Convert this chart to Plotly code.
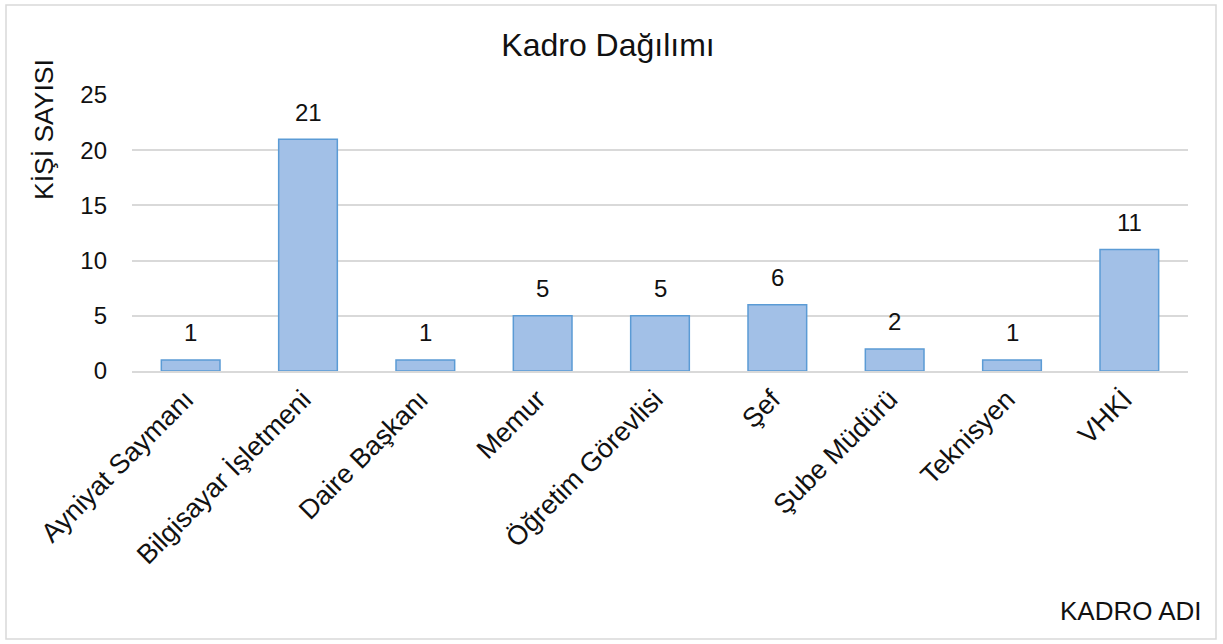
import plotly.graph_objects as go

categories = ["Ayniyat Saymanı", "Bilgisayar İşletmeni", "Daire Başkanı", "Memur",
              "Öğretim Görevlisi", "Şef", "Şube Müdürü", "Teknisyen", "VHKİ"]
values = [1, 21, 1, 5, 5, 6, 2, 1, 11]
y_ticks = [0, 5, 10, 15, 20, 25]

W, H = 1223, 644
L, R, T, B = 132, 35, 95, 273
pw, ph = W - L - R, H - T - B

def px_x(x):
    return (x - L) / pw

def px_y(y):
    return (H - B - y) / ph

font = "Liberation Sans, Arial, sans-serif"
txt = "#111111"

fig = go.Figure()
fig.add_trace(go.Bar(
    x=categories, y=values,
    marker=dict(color="#a2c0e7", line=dict(color="#5b9bd5", width=1.5)),
    width=0.5,
))

for c, v in zip(categories, values):
    fig.add_annotation(x=c, y=v, text=str(v), showarrow=False, yanchor="middle",
                       yshift=27, font=dict(size=24, color=txt, family=font))

fig.add_annotation(xref="paper", yref="paper", x=px_x(44), y=px_y(130), text="KİŞİ SAYISI",
                   textangle=-90, showarrow=False, xanchor="center", yanchor="middle",
                   font=dict(size=26.5, color=txt, family=font))
fig.add_annotation(xref="paper", yref="paper", x=px_x(1204), y=px_y(611), text="KADRO ADI",
                   showarrow=False, xanchor="right", yanchor="middle",
                   font=dict(size=26, color=txt, family=font))

fig.add_shape(type="rect", xref="paper", yref="paper",
              x0=px_x(6), x1=px_x(1216), y0=px_y(639), y1=px_y(5),
              line=dict(color="#d9d9d9", width=1.5), layer="below")

fig.update_layout(
    width=W, height=H,
    margin=dict(l=L, r=R, t=T, b=B, autoexpand=False),
    paper_bgcolor="white", plot_bgcolor="white",
    showlegend=False,
    title=dict(text="Kadro Dağılımı", x=608 / W, xref="container", xanchor="center",
               y=1 - 45 / H, yanchor="middle",
               font=dict(size=32, color=txt, family=font)),
    font=dict(family=font, color=txt),
    xaxis=dict(tickangle=-45, tickfont=dict(size=27, color=txt), showgrid=False,
               showline=True, linecolor="#d9d9d9", linewidth=1.5, ticks="",
               ticklabelshift=-5),
    yaxis=dict(range=[0, 25], tickvals=y_ticks, tickfont=dict(size=24, color=txt),
               showgrid=True, gridcolor="#d9d9d9", gridwidth=1.5, zeroline=False,
               showline=False, ticks="", ticklabelstandoff=24),
)

fig.write_html("out.html", config={"displayModeBar": False},
               post_script="document.body.style.margin='0';")
